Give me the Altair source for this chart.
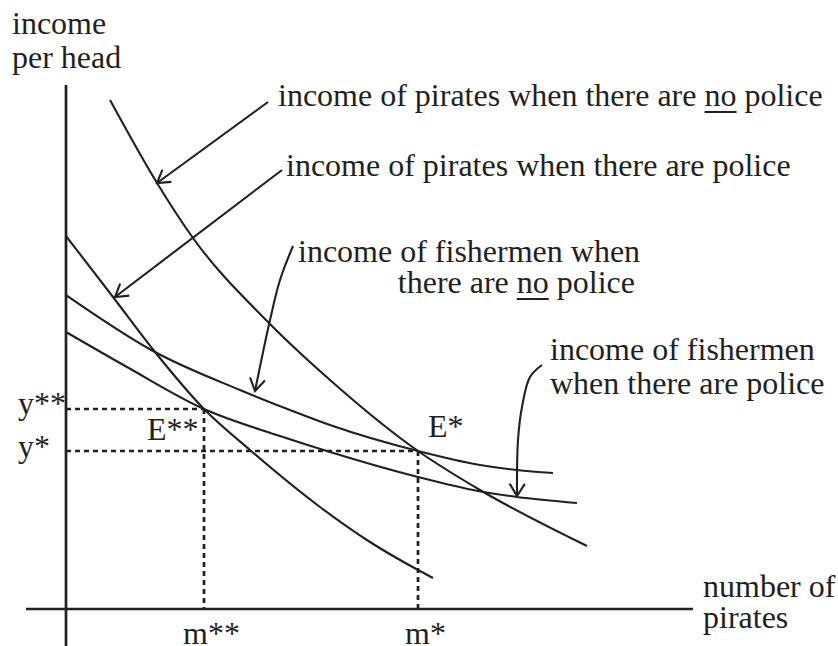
import math
import altair as alt
import pandas as pd

INK = "#231f20"
FONT = "Liberation Serif"
FS = 32

# Income schedules: number of pirates (x) against income per head (y)
pir_nopol_x = [4.4, 9.1, 12.7, 20.1, 26.4, 35.2, 41.4, 52.1]
pir_nopol_y = [50.9, 42.6, 37.1, 28.8, 22.9, 15.8, 11.9, 6.3]
pir_pol_x = [0.0, 4.7, 8.9, 13.8, 18.4, 25.4, 30.4, 35.2, 36.7]
pir_pol_y = [37.3, 31.2, 25.7, 20.0, 15.9, 10.2, 6.7, 3.9, 3.1]
fish_nopol_x = [0.0, 8.9, 17.4, 22.4, 26.4, 35.2, 41.4, 45.1, 48.7]
fish_nopol_y = [31.4, 25.7, 21.9, 19.9, 18.4, 15.8, 14.4, 13.9, 13.6]
fish_pol_x = [0.0, 6.1, 13.8, 21.4, 26.4, 35.2, 41.2, 45.1, 51.1]
fish_pol_y = [27.7, 24.2, 20.0, 17.3, 15.7, 13.2, 11.8, 11.2, 10.6]

# Equilibria E** (with police) and E* (without police)
eq_names = ["E**", "E*"]
eq_m = [13.8, 35.2]
eq_y = [20.0, 15.8]

# Axis extents
x_axis_from, x_axis_to = -4.0, 62.7
y_axis_from, y_axis_to = -3.7, 52.4

# Pointer paths from each label to its curve
arrow_x = [
    [20.2, 9.1],
    [21.6, 4.9],
    [22.7, 21.4, 20.4, 19.6, 18.9],
    [47.6, 46.4, 45.6, 45.2, 45.1],
]
arrow_y = [
    [50.7, 42.6],
    [43.9, 31.2],
    [36.3, 32.9, 28.9, 25.2, 21.8],
    [24.4, 23.2, 20.2, 16.9, 11.3],
]

# Labels (left aligned)
label_text = [
    "income", "per head",
    "income of pirates when there are no police",
    "income of pirates when there are police",
    "income of fishermen when",
    "income of fishermen", "when there are police",
    "E**", "E*", "y**", "y*", "m**", "m*",
    "number of", "pirates",
]
label_x = [-5.4, -5.4, 21.2, 22.0, 23.2, 48.4, 48.4, 8.1, 36.2, -4.8, -4.8, 11.7, 33.9, 63.7, 63.7]
label_y = [57.5, 54.1, 50.3, 43.3, 34.7, 24.9, 21.5, 16.9, 17.2, 19.5, 15.2, -3.5, -3.5, 1.2, -1.9]

# Labels (right aligned)
rlabel_text = ["there are no police"]
rlabel_x = [56.9]
rlabel_y = [31.6]

XS = alt.Scale(domain=[-6.6, 77.2], nice=False, zero=False)
YS = alt.Scale(domain=[-3.7, 60.9], nice=False, zero=False)
PX_PER_UNIT = 10.0  # 838 px over 83.8 units, 646 px over 64.6 units

# Advance widths (per 1000 em) of the serif face, used to place the underlines
ADV = {" ": 250, "a": 444, "c": 444, "e": 444, "h": 500, "i": 278, "l": 278,
       "m": 778, "n": 500, "o": 500, "p": 500, "r": 333, "s": 389, "t": 278,
       "w": 722, "f": 333}


def text_units(s):
    return sum(ADV.get(ch, 500) for ch in s) / 1000 * FS / PX_PER_UNIT


def X(field="x"):
    return alt.X(f"{field}:Q", scale=XS, axis=None)


def Y(field="y"):
    return alt.Y(f"{field}:Q", scale=YS, axis=None)


# Underline the word "no" in the two labels that contain it
under_rows = []
t, x0, y0 = label_text[2], label_x[2], label_y[2]
start = x0 + text_units(t[: t.index(" no ") + 1])
under_rows.append({"x": start, "x2": start + text_units("no"), "y": y0 - 0.6})
t, x0, y0 = rlabel_text[0], rlabel_x[0], rlabel_y[0]
left = x0 - text_units(t)
start = left + text_units(t[: t.index(" no ") + 1])
under_rows.append({"x": start, "x2": start + text_units("no"), "y": y0 - 0.6})

curve_rows = []
for name, xs, ys in [
    ("pirates, no police", pir_nopol_x, pir_nopol_y),
    ("pirates, police", pir_pol_x, pir_pol_y),
    ("fishermen, no police", fish_nopol_x, fish_nopol_y),
    ("fishermen, police", fish_pol_x, fish_pol_y),
]:
    for i, (a, b) in enumerate(zip(xs, ys)):
        curve_rows.append({"curve": name, "i": i, "x": a, "y": b})
curves_df = pd.DataFrame(curve_rows)

curves = alt.Chart(curves_df).mark_line(
    interpolate="monotone", stroke=INK, strokeWidth=2.1
).encode(x=X(), y=Y(), detail="curve:N", order="i:Q")

axes_df = pd.DataFrame([
    {"x": x_axis_from, "x2": x_axis_to, "y": 0.0, "y2": 0.0},
    {"x": 0.0, "x2": 0.0, "y": y_axis_from, "y2": y_axis_to},
])
axes = alt.Chart(axes_df).mark_rule(stroke=INK, strokeWidth=2.7).encode(
    x=X(), x2="x2:Q", y=Y(), y2="y2:Q"
)

guide_rows = []
for m, yv in zip(eq_m, eq_y):
    guide_rows.append({"x": 0.0, "x2": m, "y": yv, "y2": yv})
    guide_rows.append({"x": m, "x2": m, "y": yv, "y2": 0.0})
guides = alt.Chart(pd.DataFrame(guide_rows)).mark_rule(
    stroke=INK, strokeWidth=2.7, strokeDash=[5, 4]
).encode(x=X(), x2="x2:Q", y=Y(), y2="y2:Q")

arrow_rows, head_rows = [], []
for k, (xs, ys) in enumerate(zip(arrow_x, arrow_y)):
    for i, (a, b) in enumerate(zip(xs, ys)):
        arrow_rows.append({"arrow": k, "i": i, "x": a, "y": b})
    dx, dy = xs[-1] - xs[-2], ys[-1] - ys[-2]
    ang = math.degrees(math.atan2(-dy, dx)) % 360
    head_rows.append({"x": xs[-1], "y": ys[-1], "angle": ang})

pointers = alt.Chart(pd.DataFrame(arrow_rows)).mark_line(
    interpolate="catmull-rom", stroke=INK, strokeWidth=2.1
).encode(x=X(), y=Y(), detail="arrow:N", order="i:Q")

heads = alt.Chart(pd.DataFrame(head_rows)).mark_point(
    shape="M -1 -0.62 L 0 0 L -1 0.62",
    filled=False, stroke=INK, strokeWidth=2.1, size=600, opacity=1,
).encode(x=X(), y=Y(), angle=alt.Angle("angle:Q", scale=None))

labels = alt.Chart(pd.DataFrame({"x": label_x, "y": label_y, "t": label_text})).mark_text(
    align="left", baseline="alphabetic", font=FONT, fontSize=FS, color=INK
).encode(x=X(), y=Y(), text="t:N")

rlabels = alt.Chart(pd.DataFrame({"x": rlabel_x, "y": rlabel_y, "t": rlabel_text})).mark_text(
    align="right", baseline="alphabetic", font=FONT, fontSize=FS, color=INK
).encode(x=X(), y=Y(), text="t:N")

underlines = alt.Chart(pd.DataFrame(under_rows)).mark_rule(
    stroke=INK, strokeWidth=2
).encode(x=X(), x2="x2:Q", y=Y())

chart = alt.layer(
    guides, axes, curves, pointers, heads, labels, rlabels, underlines
).properties(
    width=838, height=646, autosize=alt.AutoSizeParams(type="none"), padding=0
).configure_view(stroke=None)

chart.save("out.html", embed_options={"renderer": "svg", "actions": False})
